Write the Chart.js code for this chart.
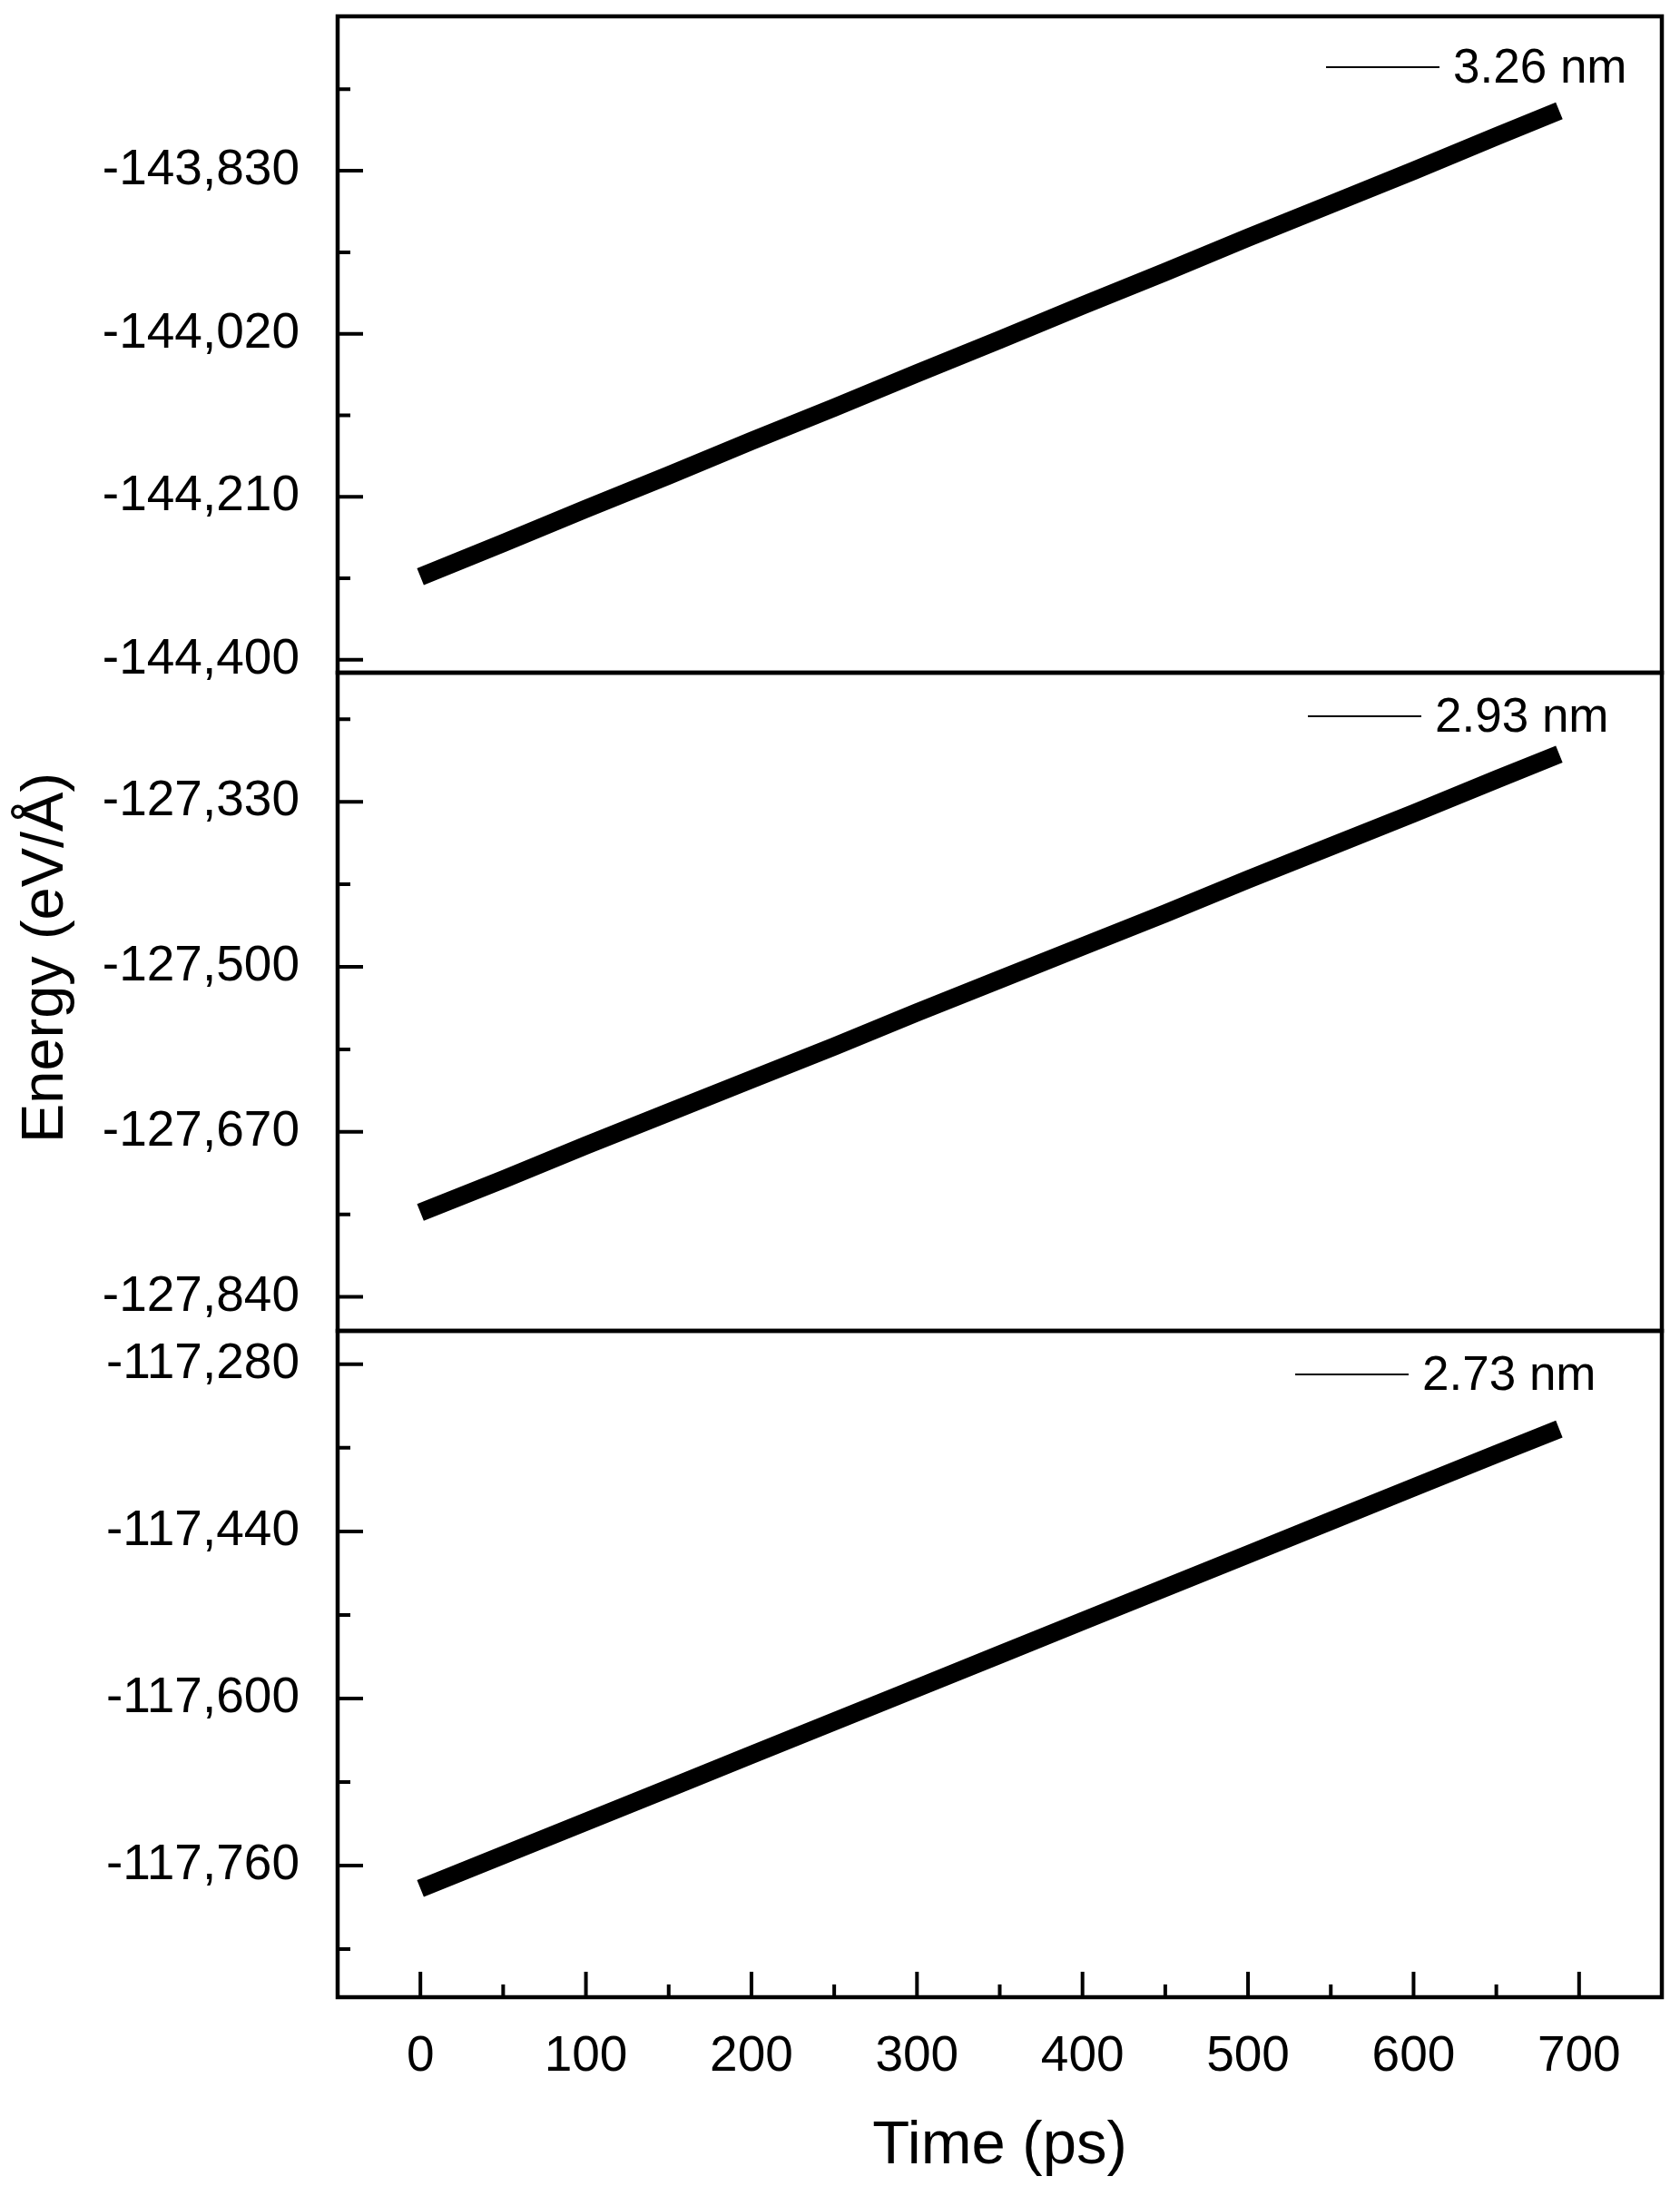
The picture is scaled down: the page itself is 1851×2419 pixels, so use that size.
<!DOCTYPE html>
<html>
<head>
<meta charset="utf-8">
<title>Energy vs time</title>
<script src="https://cdn.jsdelivr.net/npm/chart.js@4.4.1/dist/chart.umd.min.js"></script>
<style>
  html, body { margin: 0; padding: 0; background: #fff; }
  #main { display: block; }
</style>
</head>
<body>
<canvas id="main" width="1851" height="2419"></canvas>
<script>
// values (centre of the noisy band)
const timePs = [0, 50, 100, 150, 200, 250, 300, 350, 400, 450, 500, 550, 600, 650, 688];
const energy326 = [-144303, -144264, -144224, -144185, -144145, -144106, -144066, -144027, -143987, -143948, -143908, -143869, -143830, -143790, -143760];
const energy293 = [-127753, -127719, -127684, -127650, -127616, -127582, -127547, -127513, -127479, -127445, -127410, -127376, -127342, -127307, -127281];
const energy273 = [-117782, -117750, -117718, -117686, -117654, -117622, -117590, -117558, -117526, -117494, -117462, -117430, -117398, -117366, -117342];
const seriesLabels = ['3.26 nm', '2.93 nm', '2.73 nm'];

// axes
const xMajor = [0, 100, 200, 300, 400, 500, 600, 700];
const xMinor = [50, 150, 250, 350, 450, 550, 650];
const xRange = [-50, 750];

const yMajor326 = [-143830, -144020, -144210, -144400];
const yMinor326 = [-143735, -143925, -144115, -144305];
const yRange326 = [-144415, -143650];

const yMajor293 = [-127330, -127500, -127670, -127840];
const yMinor293 = [-127245, -127415, -127585, -127755];
const yRange293 = [-127875, -127197];

const yMajor273 = [-117280, -117440, -117600, -117760];
const yMinor273 = [-117360, -117520, -117680, -117840];
const yRange273 = [-117886, -117248];

const FONT = 'Liberation Sans, Arial, Helvetica, sans-serif';
Chart.defaults.font.family = FONT;
Chart.defaults.color = '#000';

const toPoints = (ys) => timePs.map((t, i) => ({x: t, y: ys[i]}));

// one entry per stacked panel, top to bottom
const panels = [
  {axis: 'y1', minor: yMinor326, legendTop: 56, legendRight: 230},
  {axis: 'y2', minor: yMinor293, legendTop: 48, legendRight: 250},
  {axis: 'y3', minor: yMinor273, legendTop: 48, legendRight: 264}
];

const yAxis = (range, majors, weight, stackWeight) => ({
  type: 'linear',
  position: 'left',
  stack: 'energy',
  stackWeight: stackWeight,
  weight: weight,
  min: range[0],
  max: range[1],
  grid: {display: false},
  border: {display: false},
  ticks: {
    font: {size: 55},
    color: '#000',
    padding: 34,
    callback: v => v.toLocaleString('en-US')
  },
  afterBuildTicks: s => { s.ticks = majors.map(v => ({value: v})); },
  afterFit: s => { s.width = 372; s.paddingTop = 0; s.paddingBottom = 0; }
});

const framePlugin = {
  id: 'frames',
  afterDatasetsDraw(chart) {
    const {ctx, chartArea} = chart;
    const xs = chart.scales.x;
    ctx.save();
    ctx.strokeStyle = '#000';
    ctx.fillStyle = '#000';

    panels.forEach((p, i) => {
      const s = chart.scales[p.axis];
      ctx.lineWidth = 4.5;
      ctx.strokeRect(chartArea.left, s.top, chartArea.right - chartArea.left, s.bottom - s.top);
      ctx.lineWidth = 4;
      ctx.beginPath();
      s.ticks.forEach(t => {
        const py = s.getPixelForValue(t.value);
        ctx.moveTo(chartArea.left, py);
        ctx.lineTo(chartArea.left + 28, py);
      });
      p.minor.forEach(v => {
        const py = s.getPixelForValue(v);
        ctx.moveTo(chartArea.left, py);
        ctx.lineTo(chartArea.left + 14, py);
      });
      ctx.stroke();

      // legend entry
      const ly = s.top + p.legendTop;
      const tx = chartArea.right - p.legendRight;
      ctx.lineWidth = 2;
      ctx.beginPath();
      ctx.moveTo(tx - 140, ly);
      ctx.lineTo(tx - 15, ly);
      ctx.stroke();
      ctx.font = '53px ' + FONT;
      ctx.textAlign = 'left';
      ctx.textBaseline = 'middle';
      ctx.fillText(chart.data.datasets[i].label, tx, ly + 2);
    });

    // x ticks (pointing up, inside)
    ctx.lineWidth = 4;
    ctx.beginPath();
    const yb = chartArea.bottom;
    xMajor.forEach(v => {
      const px = xs.getPixelForValue(v);
      ctx.moveTo(px, yb);
      ctx.lineTo(px, yb - 28);
    });
    xMinor.forEach(v => {
      const px = xs.getPixelForValue(v);
      ctx.moveTo(px, yb);
      ctx.lineTo(px, yb - 14);
    });
    ctx.stroke();

    // y title
    ctx.translate(69, (chartArea.top + chartArea.bottom) / 2 - 54);
    ctx.rotate(-Math.PI / 2);
    ctx.font = '65px ' + FONT;
    ctx.textAlign = 'center';
    ctx.textBaseline = 'alphabetic';
    ctx.fillText('Energy (eV/Å)', 0, 0);
    ctx.restore();
  }
};

const mkSet = (label, ys, axis) => ({
  label: label,
  data: toPoints(ys),
  yAxisID: axis,
  borderColor: '#000',
  backgroundColor: '#000',
  borderWidth: 20,
  pointRadius: 0,
  fill: false,
  tension: 0
});

new Chart(document.getElementById('main'), {
  type: 'line',
  data: {
    datasets: [
      mkSet(seriesLabels[0], energy326, 'y1'),
      mkSet(seriesLabels[1], energy293, 'y2'),
      mkSet(seriesLabels[2], energy273, 'y3')
    ]
  },
  options: {
    responsive: false,
    animation: false,
    devicePixelRatio: 1,
    layout: {padding: {left: 0, top: 18, right: 20, bottom: 0}},
    plugins: {legend: {display: false}, tooltip: {enabled: false}},
    scales: {
      x: {
        type: 'linear',
        position: 'bottom',
        min: xRange[0],
        max: xRange[1],
        grid: {display: false},
        border: {display: false},
        ticks: {font: {size: 55}, color: '#000', padding: 25, maxRotation: 0, autoSkip: false},
        afterBuildTicks: s => { s.ticks = xMajor.map(v => ({value: v})); },
        title: {display: true, text: 'Time (ps)', font: {size: 67}, color: '#000', padding: {top: 0, bottom: 14}},
        afterFit: s => { s.height = 219; }
      },
      y1: yAxis(yRange326, yMajor326, 3, 723),
      y2: yAxis(yRange293, yMajor293, 2, 725),
      y3: yAxis(yRange273, yMajor273, 1, 734)
    }
  },
  plugins: [framePlugin]
});
</script>
</body>
</html>
